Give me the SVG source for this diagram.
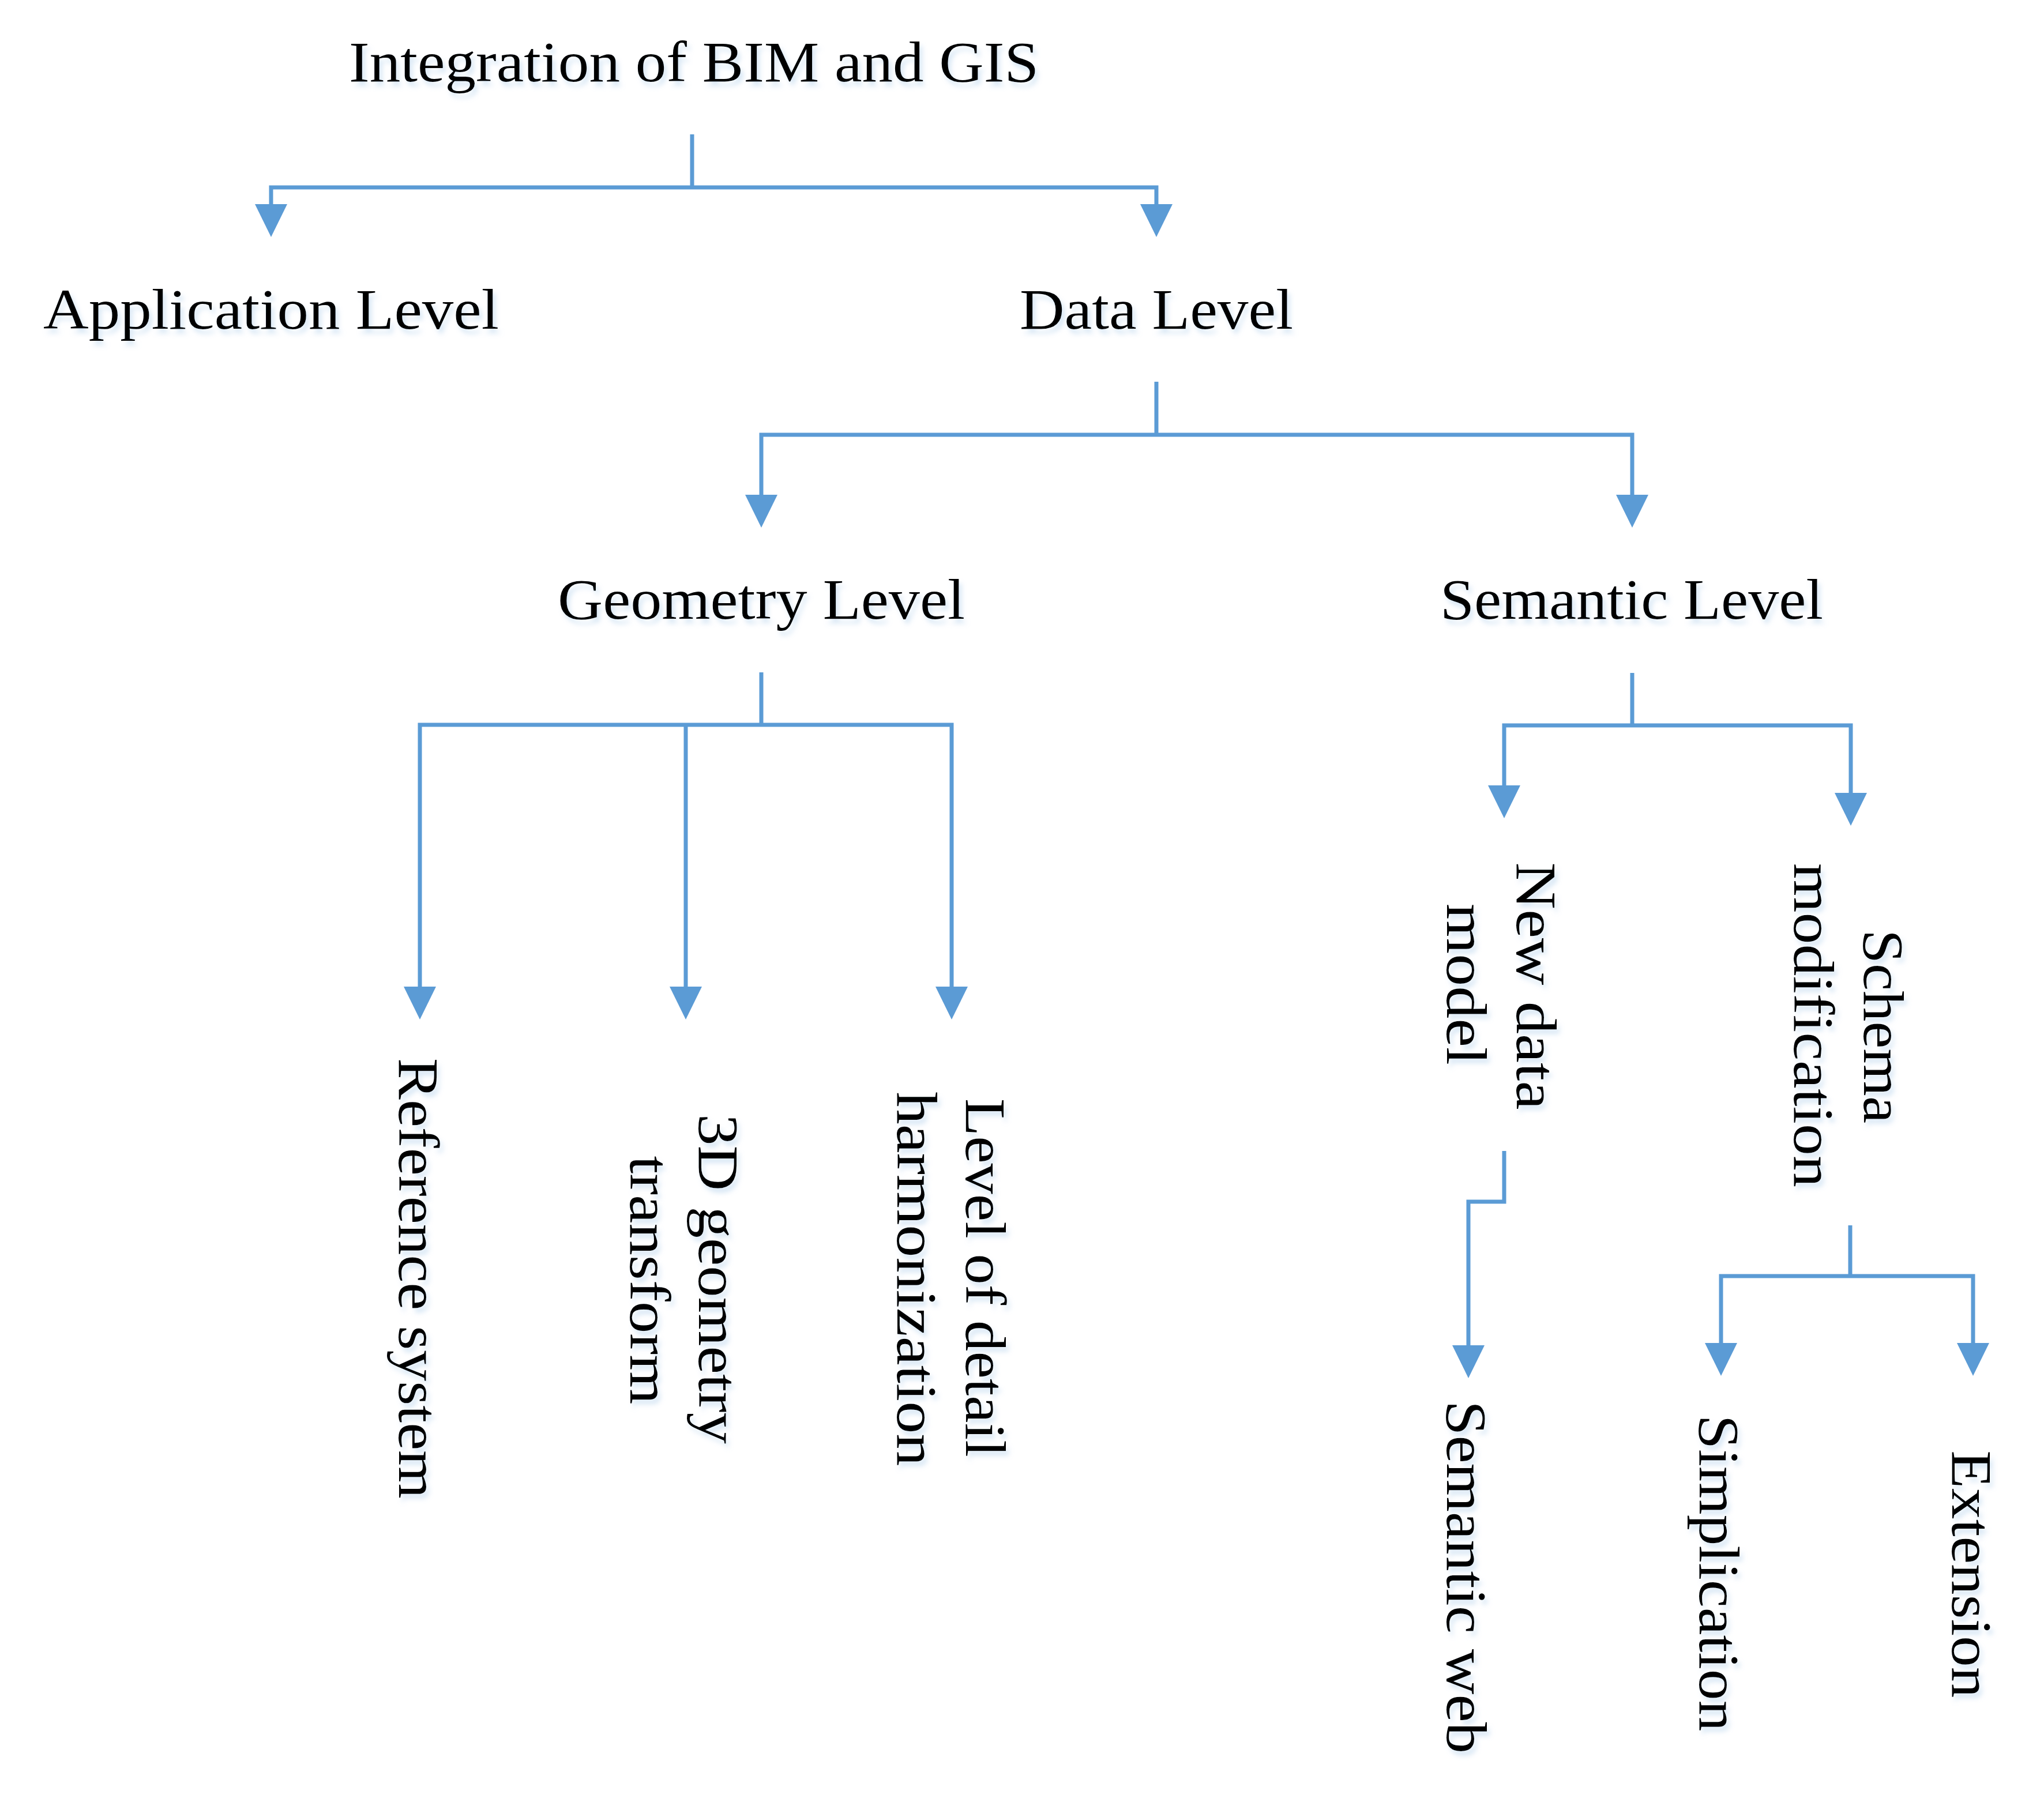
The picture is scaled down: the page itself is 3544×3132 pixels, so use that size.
<svg xmlns="http://www.w3.org/2000/svg" width="3544" height="3132" viewBox="0 0 3544 3132">
<style>
.t{font-family:"Liberation Serif","Times New Roman",serif;font-size:100px;fill:#000;text-anchor:middle}
.c{fill:none;stroke:#5B9BD5;stroke-width:7;stroke-linejoin:miter;stroke-linecap:butt}
.a{marker-end:url(#ah)}
.n{filter:url(#sh)}
</style>
<defs>
<marker id="ah" markerUnits="userSpaceOnUse" markerWidth="58" markerHeight="58" refX="0" refY="28" orient="auto" viewBox="0 0 58 58" overflow="visible">
<path d="M0,0 L57,28 L0,56 Z" fill="#5B9BD5"/>
</marker>
<filter id="sh" x="-10%" y="-10%" width="125%" height="135%">
<feGaussianBlur in="SourceAlpha" stdDeviation="4"/>
<feOffset dx="5" dy="8" result="b"/>
<feFlood flood-color="#9DC3E6" flood-opacity="0.4"/>
<feComposite in2="b" operator="in"/>
<feMerge><feMergeNode/><feMergeNode in="SourceGraphic"/></feMerge>
</filter>
</defs>
<rect width="3544" height="3132" fill="#fff"/>

<g id="connectors">
<path class="c" d="M1200,233 V325"/>
<path class="c a" d="M1200,325 H470 V354"/>
<path class="c a" d="M1200,325 H2005 V354"/>

<path class="c" d="M2005,662 V754"/>
<path class="c a" d="M2005,754 H1320 V858"/>
<path class="c a" d="M2005,754 H2830 V858"/>

<path class="c" d="M1320,1166 V1257"/>
<path class="c a" d="M1320,1257 H728 V1711"/>
<path class="c a" d="M1189,1257 V1711"/>
<path class="c a" d="M1320,1257 H1650 V1711"/>

<path class="c" d="M2830,1167 V1258"/>
<path class="c a" d="M2830,1258 H2608 V1362"/>
<path class="c a" d="M2830,1258 H3209 V1375"/>

<path class="c a" d="M2608,1996 V2084 H2546 V2333"/>

<path class="c" d="M3208,2125 V2213"/>
<path class="c a" d="M3208,2213 H2984 V2329"/>
<path class="c a" d="M3208,2213 H3421 V2329"/>
</g>

<g id="n-title" class="n"><text class="t" x="1203" y="141" textLength="1196" lengthAdjust="spacingAndGlyphs">Integration of BIM and GIS</text></g>
<g id="n-application" class="n"><text class="t" x="470" y="570" textLength="790" lengthAdjust="spacingAndGlyphs">Application Level</text></g>
<g id="n-data" class="n"><text class="t" x="2005" y="570" textLength="474" lengthAdjust="spacingAndGlyphs">Data Level</text></g>
<g id="n-geometry" class="n"><text class="t" x="1320" y="1073" textLength="706" lengthAdjust="spacingAndGlyphs">Geometry Level</text></g>
<g id="n-semantic" class="n"><text class="t" x="2829" y="1073" textLength="664" lengthAdjust="spacingAndGlyphs">Semantic Level</text></g>

<g id="n-reference" class="n"><text class="t" transform="translate(692,2217) rotate(90)" textLength="764" lengthAdjust="spacingAndGlyphs">Reference system</text></g>
<g id="n-3d" class="n">
<text class="t" transform="translate(1212,2218) rotate(90)" textLength="572" lengthAdjust="spacingAndGlyphs">3D geometry</text>
<text class="t" transform="translate(1093,2220) rotate(90)" textLength="431" lengthAdjust="spacingAndGlyphs">transform</text>
</g>
<g id="n-lod" class="n">
<text class="t" transform="translate(1675,2216) rotate(90)" textLength="622" lengthAdjust="spacingAndGlyphs">Level of detail</text>
<text class="t" transform="translate(1556,2218) rotate(90)" textLength="649" lengthAdjust="spacingAndGlyphs">harmonization</text>
</g>
<g id="n-newdata" class="n">
<text class="t" transform="translate(2630,1710) rotate(90)" textLength="429" lengthAdjust="spacingAndGlyphs">New data</text>
<text class="t" transform="translate(2509,1707) rotate(90)" textLength="280" lengthAdjust="spacingAndGlyphs">model</text>
</g>
<g id="n-schema" class="n">
<text class="t" transform="translate(3232,1780) rotate(90)" textLength="336" lengthAdjust="spacingAndGlyphs">Schema</text>
<text class="t" transform="translate(3111,1778) rotate(90)" textLength="562" lengthAdjust="spacingAndGlyphs">modification</text>
</g>
<g id="n-semweb" class="n"><text class="t" transform="translate(2509,2735) rotate(90)" textLength="612" lengthAdjust="spacingAndGlyphs">Semantic web</text></g>
<g id="n-simplication" class="n"><text class="t" transform="translate(2947,2728) rotate(90)" textLength="549" lengthAdjust="spacingAndGlyphs">Simplication</text></g>
<g id="n-extension" class="n"><text class="t" transform="translate(3385,2730) rotate(90)" textLength="429" lengthAdjust="spacingAndGlyphs">Extension</text></g>
</svg>
